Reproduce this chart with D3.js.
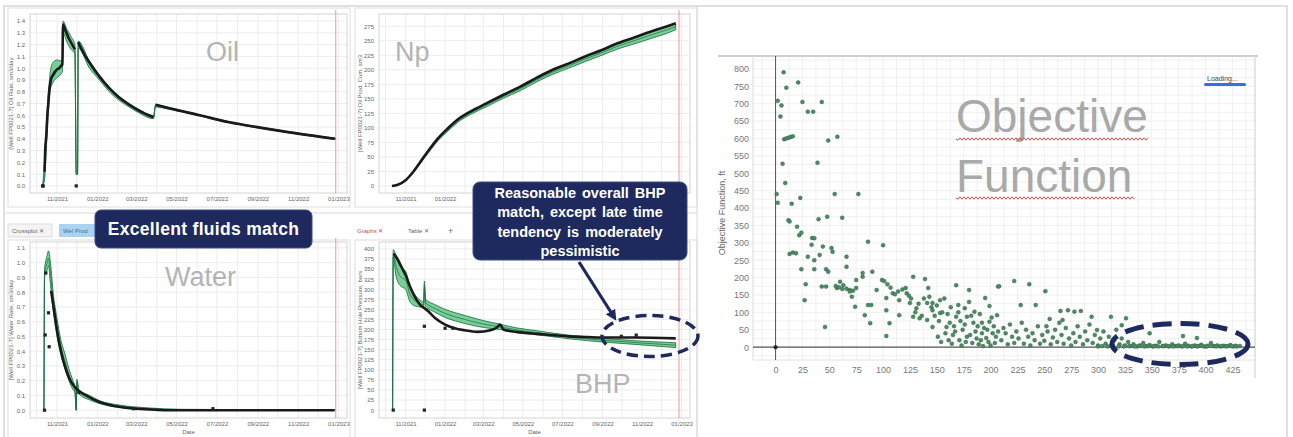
<!DOCTYPE html>
<html lang="en">
<head>
<meta charset="UTF-8">
<title>History match overview</title>
<script src="https://d3js.org/d3.v7.min.js"></script>
<style>
  body { margin:0; background:#fff; overflow:hidden; }
  svg { display:block; font-family:"Liberation Sans", Arial, sans-serif; }
</style>
</head>
<body>
<script>
// ---- data -------------------------------------------------------------
const dateDomain = ["2021-09-21", "2023-01-14"];
const monthTicks = ["2021-11-01","2022-01-01","2022-03-01","2022-05-01","2022-07-01","2022-09-01","2022-11-01","2023-01-01"];
const historyEnd = "2022-12-28";

// oil rate, sm3/day (observed, null = gap)
const oilObsDates = ["2021-10-13","2021-10-14","2021-10-16","2021-10-17","2021-10-19","2021-10-20","2021-10-22","2021-10-23","2021-10-26","2021-10-29","2021-11-01","2021-11-04","2021-11-07","2021-11-09","2021-11-10","2021-11-13","2021-11-16","2021-11-19","2021-11-22","2021-11-25","2021-11-28","2021-11-30","2021-12-03","2021-12-12","2021-12-20","2022-01-04","2022-01-19","2022-02-03","2022-02-18","2022-03-05","2022-03-27","2022-03-29","2022-03-30","2022-04-20","2022-06-05","2022-07-20","2022-09-04","2022-10-19","2022-12-27"];
const oilObs = [0.12,0.3,0.45,0.57,0.72,0.8,0.88,0.91,0.94,0.97,0.99,1.0,1.02,1.03,1.37,1.33,1.29,1.25,1.22,1.19,1.16,null,1.22,1.12,1.05,0.93,0.83,0.75,0.69,0.64,0.585,null,0.69,0.66,0.6,0.54,0.495,0.455,0.4];
const oilDotDates = ["2021-10-10","2021-10-11","2021-11-30"];
const oilDots = [0,0,0];
const oilSimDates = ["2021-10-10","2021-10-13","2021-10-16","2021-10-19","2021-10-22","2021-10-26","2021-11-01","2021-11-07","2021-11-09","2021-11-10","2021-11-16","2021-11-22","2021-11-28","2021-11-30","2021-12-02","2021-12-03","2021-12-20","2022-01-04","2022-01-19","2022-02-18","2022-03-05","2022-03-27","2022-03-30","2022-04-20","2022-06-05","2022-07-20","2022-09-04","2022-10-19","2022-12-27"];
const oilSimLow  = [0,0.05,0.35,0.65,0.82,0.88,0.92,0.95,0.97,1.3,1.22,1.16,1.12,0.1,0.1,1.17,1.0,0.9,0.8,0.67,0.62,0.57,0.67,0.65,0.595,0.535,0.49,0.45,0.395];
const oilSimHigh = [0,0.2,0.55,0.8,0.98,1.05,1.07,1.06,1.08,1.4,1.33,1.27,1.2,0.1,0.1,1.23,1.06,0.94,0.84,0.7,0.65,0.59,0.69,0.665,0.605,0.545,0.5,0.46,0.405];

// cumulative oil, sm3
const npDates = ["2021-10-11","2021-10-19","2021-11-01","2021-11-11","2021-11-26","2021-12-11","2021-12-21","2022-01-05","2022-01-20","2022-02-09","2022-03-07","2022-04-01","2022-04-27","2022-05-22","2022-06-16","2022-07-11","2022-08-05","2022-08-31","2022-09-25","2022-10-21","2022-11-15","2022-12-10","2022-12-23"];
const npObs     = [0,1.7,10,22,45,68,82,99,114,128,143,157,171,186,200,211,223,234,246,256,266,275,280];
const npSimLow  = [0,1,9,20,42,64,78,94,109,123,137,151,164,179,192,203,214,225,236,245,254,263,269];
const npSimHigh = [0,1.7,10,22,45,68,82,99,114,128,143,157,171,186,200,211,223,234,246,256,266,275,279];

// water rate, sm3/day
const waterObsDates = ["2021-10-23","2021-10-28","2021-11-02","2021-11-07","2021-11-12","2021-11-19","2021-11-29","2021-12-15","2022-01-04","2022-01-29","2022-02-23","2022-03-21","2022-04-15","2022-12-26"];
const waterObs = [0.81,0.66,0.51,0.40,0.31,0.22,0.15,0.10,0.055,0.026,0.011,0.005,0.0,0.0];
const waterDotDates = ["2021-10-13","2021-10-14","2021-10-15","2021-10-19","2021-10-20","2021-12-04","2022-02-25","2022-06-25"];
const waterDots = [0,0.51,0.93,0.66,0.43,0.12,0.01,0.01];
const waterSimDates = ["2021-10-11","2021-10-12","2021-10-13","2021-10-17","2021-10-19","2021-10-22","2021-10-26","2021-11-01","2021-11-07","2021-11-13","2021-11-19","2021-11-25","2021-11-28","2021-11-30","2021-12-01","2021-12-04","2021-12-20","2022-01-04","2022-02-03","2022-03-21","2022-05-05","2022-12-27"];
const waterSimLow  = [0,0,0.9,0.95,0.98,0.85,0.68,0.5,0.37,0.28,0.2,0.14,0.12,0,0.18,0.11,0.07,0.045,0.02,0.008,0.003,0];
const waterSimHigh = [0,0,0.95,1.05,1.08,1.0,0.8,0.62,0.47,0.38,0.28,0.2,0.16,0,0.21,0.14,0.1,0.065,0.035,0.015,0.006,0.002];

// bottom hole pressure, bars
const bhpObsDates = ["2021-10-14","2021-10-19","2021-10-27","2021-11-01","2021-11-08","2021-11-16","2021-11-26","2021-11-30","2021-12-06","2021-12-16","2022-01-01","2022-01-16","2022-01-31","2022-02-20","2022-03-12","2022-03-22","2022-03-27","2022-04-01","2022-04-21","2022-05-22","2022-06-16","2022-07-11","2022-08-10","2022-08-31","2022-10-21","2022-12-23"];
const bhpObs = [388,376,351,335,306,279,257,253,245,229,212,203,198,194,198,205,212,200,194,189,186,183,181,180,180,178];
const bhpDotDates = ["2021-10-13","2021-11-30","2021-11-30","2022-01-01","2022-01-13","2022-09-30","2022-10-23"];
const bhpDots = [0,0,208,203,203,183,186];
const bhpSimDates = ["2021-10-12","2021-10-13","2021-10-17","2021-10-22","2021-10-27","2021-11-01","2021-11-08","2021-11-16","2021-11-26","2021-11-29","2021-11-30","2021-12-02","2021-12-16","2022-01-01","2022-01-31","2022-03-01","2022-03-27","2022-04-21","2022-05-22","2022-06-16","2022-07-11","2022-08-10","2022-08-31","2022-10-21","2022-12-23"];
const bhpSimLow  = [0,380,335,312,305,300,268,258,255,253,300,258,243,230,215,205,200,194,187,182,177,172,169,163,155];
const bhpSimHigh = [0,398,385,360,350,345,305,285,270,268,320,275,262,250,235,222,213,204,197,191,186,181,178,172,167];

// objective function per run: [iteration, value ft]
const objRuns = [
  [0,0],[1,440],[2,415],[2,708],[4.5,663],[5.5,695],[6.5,527],[7.5,790],[9,472],[10,746],
  [8,598],[10,600],[12,602],[14,604],[16,606],[12,365],[13,361],[15,412],[20,346],[21,761],
  [22,322],[23,429],[24,329],[24,224],[25,705],[28,181],[27,135],[30,677],[30,260],[33.5,294],
  [34,314],[35,677],[36,313],[36,250],[36,224],[39,530],[40,368],[41,265],[43,705],[43,174],
  [44,289],[46,58],[47,174],[47,224],[48,375],[49,594],[49,217],[52,285],[53,274],[55,440],
  [57.5,605],[57,170],[60,188],[62,372],[62,167],[66,231],[66,260],[69,164],[71,145],[74,116],
  [75,170],[75,193],[77,440],[81,202],[81,213],[83,92],[86,303],[86,121],[88,69],[89,121],
  [90,217],[94,164],[99,193],[100,293],[103,106],[103,32],[103,141],[106,69],[109,155],[115,92],
  [115,135],[122,155],[125,127],[128,202],[128,87],[131,112],[134,83],[139,196],[141,127],[141,78],
  [142,170],[143,145],[146,127],[146,106],[146,58],[153,135],[153,98],[159,58],[165,35],[168,178],
  [168,87],[170,121],[176,112],[178,87],[178,30],[180,164],[180,130],[185,102],[188,60],[192,40],
  [195,141],[196,26],[199,118],[199,73],[202,40],[206,92],[207,174],[208,175],[222,190],[228,121],
  [236,181],[242,121],[251,161],[252,60],[255,81],[265,104],[267,78],[272,106],[278,102],[284,104],
  [294,87],[299,49],[312,87],[322,63],[326,83],[348,40],[379,32],[392,26],
  [13,268],[16,272],[19,270],[56,176],[59,172],[63,178],[66,168],[69,160],[72,162],
  [101,190],[104,181],[107,171],[111,152],[114,160],[118,166],[121,170],[124,148],
  [126,140],[130,100],[133,125],[136,90],[138,140],[145,115],[148,90],[150,120],[152,75],[155,100],
  [157,140],[160,95],[162,70],[163,115],[166,60],[170,100],[172,75],[174,50],[176,65],[182,90],
  [184,70],[186,45],[190,95],[192,70],[194,55],[197,50],[201,85],[203,60],[205,30],
  [151,30],[154,15],[158,40],[161,20],[164,10],[167,45],[171,20],[173,5],[177,15],[181,35],
  [183,12],[187,25],[189,8],[191,20],[193,3],[198,15],[200,5],[204,12],[207,45],
  [210,20],[212,55],[214,40],[216,8],[218,65],[220,30],[222,12],[224,45],[226,25],[229,70],
  [231,10],[233,50],[235,30],[237,5],[239,40],[241,20],[244,60],[246,10],[248,35],[250,18],
  [253,45],[256,8],[258,28],[260,50],[262,15],[264,70],[266,35],[268,10],[270,55],[273,25],
  [275,5],[277,40],[279,15],[281,60],[283,30],[286,8],[288,45],[290,20],[292,65],[295,12],
  [297,35],[300,5],[302,25],[305,45],[307,10],[310,30],[312,4],[315,20],[317,50],[320,8],
  [322,25],[325,5],[328,15],[330,3],
  [333,8],[336,2],[339,5],[342,12],[345,3],[348,6],[351,2],[354,4],[357,15],[360,3],
  [363,5],[366,2],[369,8],[372,3],[375,5],[378,2],[381,10],[384,4],[387,2],[390,5],
  [393,3],[396,7],[399,2],[402,4],[405,12],[408,3],[411,5],[414,2],[417,4],[420,3],
  [423,6],[426,2],[428,4],
  [300,2],[304,3],[309,2],[314,3],[319,2],[324,2],[329,3],[334,2],[338,3],[343,2],
  [347,3],[352,3],[356,2],[361,3],[365,3],[370,2],[374,3],[379,3],[383,2],[388,3],
  [392,2],[397,3],[401,2],[406,3],[410,2],[415,3],[419,2],[424,3],[429,2],[432,3]
];
const objXTicks = d3.range(0, 426, 25);
const objYTicks = d3.range(0, 801, 50);

// ---- page -------------------------------------------------------------
const W = 1293, H = 437;
const parse = d3.timeParse("%Y-%m-%d");
const navy = "#1e2a5e";

const svg = d3.select("body").append("svg")
  .attr("width", W).attr("height", H);

svg.append("rect").attr("width", W).attr("height", H).attr("fill", "#fff");
svg.append("rect").attr("x", 4).attr("y", 6).attr("width", 1283).attr("height", 445)
  .attr("fill", "none").attr("stroke", "#d6d6d6").attr("stroke-width", 1.5);

function zip(dates, vals) {
  return dates.map((d, i) => ({date: parse(d), v: vals[i]}));
}
function zip3(dates, lo, hi) {
  return dates.map((d, i) => ({date: parse(d), lo: lo[i], hi: hi[i]}));
}

// one time-series chart from the simulator screenshot
function timePanel(o) {
  const g = svg.append("g");
  const x = d3.scaleTime().domain(dateDomain.map(parse)).range([o.left, o.right]);
  const y = d3.scaleLinear().domain(o.yDomain).range([o.bottom, o.top]);

  g.append("rect").attr("x", o.frame[0]).attr("y", o.frame[1])
    .attr("width", o.frame[2]).attr("height", o.frame[3])
    .attr("fill", "#fff").attr("stroke", "#dedede");

  // grid
  g.append("g").selectAll("line")
    .data(d3.timeMonth.range(...dateDomain.map(parse)))
    .join("line")
      .attr("x1", d => x(d)).attr("x2", d => x(d))
      .attr("y1", o.top).attr("y2", o.bottom)
      .attr("stroke", "#ececec");
  g.append("g").selectAll("line")
    .data(o.yTicks)
    .join("line")
      .attr("x1", o.left).attr("x2", o.right)
      .attr("y1", d => y(d)).attr("y2", d => y(d))
      .attr("stroke", "#ececec");
  g.append("rect").attr("x", o.left).attr("y", o.top)
    .attr("width", o.right - o.left).attr("height", o.bottom - o.top)
    .attr("fill", "none").attr("stroke", "#d4d4d4");

  // end of history marker
  g.append("line")
    .attr("x1", x(parse(historyEnd))).attr("x2", x(parse(historyEnd)))
    .attr("y1", o.top - 4).attr("y2", o.bottom)
    .attr("stroke", "#e88080").attr("stroke-width", 0.8);

  const shown = monthTicks.map(parse).filter(d => !o.hideX || x(d) < o.hideX[0] || x(d) > o.hideX[1]);
  const xa = g.append("g").attr("transform", `translate(0,${o.bottom})`)
    .call(d3.axisBottom(x).tickValues(shown)
      .tickFormat(d3.timeFormat("%m/%Y")).tickSize(0).tickPadding(4));
  xa.select(".domain").remove();
  xa.selectAll("text").attr("font-size", 6).attr("fill", "#666");

  const ya = g.append("g").attr("transform", `translate(${o.left},0)`)
    .call(d3.axisLeft(y).tickValues(o.yTicks).tickFormat(o.yFmt).tickSize(0).tickPadding(5));
  ya.select(".domain").remove();
  ya.selectAll("text").attr("font-size", 6).attr("fill", "#666");

  g.append("text")
    .attr("transform", `translate(${o.left - 17},${(o.top + o.bottom) / 2}) rotate(-90)`)
    .attr("text-anchor", "middle").attr("font-size", 6).attr("fill", "#666")
    .text(o.yTitle);

  if (o.dateLabel) {
    g.append("text").attr("x", (o.left + o.right) / 2).attr("y", o.bottom + 16)
      .attr("text-anchor", "middle").attr("font-size", 6).attr("fill", "#666").text("Date");
  }

  g.append("text").attr("x", o.name[1]).attr("y", o.name[2])
    .attr("font-size", 27).attr("fill", "#b4b4b4").text(o.name[0]);

  return {g, x, y};
}

function drawSeries(p, sim, obs, dots) {
  const area = d3.area()
    .x(d => p.x(d.date)).y0(d => p.y(d.lo)).y1(d => p.y(d.hi))
    .curve(d3.curveMonotoneX);
  p.g.append("path").datum(sim).attr("d", area)
    .attr("fill", "#62c486").attr("fill-opacity", 0.85)
    .attr("stroke", "#237a47").attr("stroke-width", 0.9);
  p.g.append("path").datum(sim)
    .attr("d", d3.line().x(d => p.x(d.date)).y(d => p.y((d.lo + d.hi) / 2)).curve(d3.curveMonotoneX))
    .attr("fill", "none").attr("stroke", "#1b6b3c").attr("stroke-width", 0.7);

  const line = d3.line()
    .defined(d => d.v != null)
    .x(d => p.x(d.date)).y(d => p.y(d.v))
    .curve(d3.curveMonotoneX);
  p.g.append("path").datum(obs).attr("d", line)
    .attr("fill", "none").attr("stroke", "#1a1a1a").attr("stroke-width", 2.6);

  p.g.append("g").selectAll("rect")
    .data(dots).join("rect")
      .attr("x", d => p.x(d.date) - 1.6).attr("y", d => p.y(d.v) - 1.6)
      .attr("width", 3.2).attr("height", 3.2).attr("fill", "#222");
}

// ---- four history-match panels ----------------------------------------
const oil = timePanel({
  frame: [8, 8, 342, 199], left: 30, right: 347, top: 14, bottom: 193,
  yDomain: [-0.06, 1.46], yTicks: d3.range(0, 1.41, 0.1), yFmt: d3.format(".1f"),
  yTitle: "[Well FP0021-7] Oil Rate, sm3/day", name: ["Oil", 206, 61]
});
drawSeries(oil, zip3(oilSimDates, oilSimLow, oilSimHigh),
  zip(oilObsDates, oilObs), zip(oilDotDates, oilDots));

const np = timePanel({
  frame: [355, 8, 342, 199], left: 379, right: 690, top: 14, bottom: 193,
  yDomain: [-12, 296], yTicks: d3.range(0, 276, 25), yFmt: d3.format("d"),
  yTitle: "[Well FP0021-7] Oil Prod. Cum, sm3", name: ["Np", 395, 61],
  hideX: [460, 700]
});
drawSeries(np, zip3(npDates, npSimLow, npSimHigh), zip(npDates, npObs), []);

const water = timePanel({
  frame: [8, 240, 342, 210], left: 30, right: 347, top: 242, bottom: 418,
  yDomain: [-0.053, 1.14], yTicks: d3.range(0, 1.11, 0.1), yFmt: d3.format(".1f"),
  yTitle: "[Well FP0021-7] Water Rate, sm3/day", name: ["Water", 165, 286], dateLabel: true
});
drawSeries(water, zip3(waterSimDates, waterSimLow, waterSimHigh),
  zip(waterObsDates, waterObs), zip(waterDotDates, waterDots));

const bhp = timePanel({
  frame: [355, 240, 342, 210], left: 379, right: 690, top: 242, bottom: 418,
  yDomain: [-19.6, 417], yTicks: d3.range(0, 401, 25), yFmt: d3.format("d"),
  yTitle: "[Well FP0021-7] Bottom Hole Pressure, bars", name: ["BHP", 575, 393], dateLabel: true
});
drawSeries(bhp, zip3(bhpSimDates, bhpSimLow, bhpSimHigh),
  zip(bhpObsDates, bhpObs), zip(bhpDotDates, bhpDots));

// tab strip between the rows
svg.append("line").attr("x1", 6).attr("x2", 697).attr("y1", 213).attr("y2", 213)
  .attr("stroke", "#d8d8d8");
svg.append("rect").attr("x", 8).attr("y", 224).attr("width", 44).attr("height", 13)
  .attr("fill", "#f4f4f4").attr("stroke", "#ddd");
svg.append("text").attr("x", 12).attr("y", 233).attr("font-size", 6).attr("fill", "#666").text("Crossplot ✕");
svg.append("rect").attr("x", 59).attr("y", 224).attr("width", 36).attr("height", 13)
  .attr("fill", "#a9d2f3");
svg.append("text").attr("x", 63).attr("y", 233).attr("font-size", 6).attr("fill", "#4a6a8a").text("Wel Prod");
svg.append("text").attr("x", 357).attr("y", 233).attr("font-size", 6).attr("fill", "#a55").text("Graphs ✕");
svg.append("text").attr("x", 408).attr("y", 233).attr("font-size", 6).attr("fill", "#666").text("Table ✕");
svg.append("text").attr("x", 448).attr("y", 234).attr("font-size", 9).attr("fill", "#666").text("+");
svg.append("line").attr("x1", 697).attr("x2", 697).attr("y1", 6).attr("y2", 437)
  .attr("stroke", "#d8d8d8");

// ---- objective function scatter ---------------------------------------
const ox = d3.scaleLinear().domain([-21, 446]).range([753, 1255]);
const oy = d3.scaleLinear().domain([-37, 837]).range([360, 56]);
const og = svg.append("g");

og.append("g").selectAll("line")
  .data(d3.range(-12.5, 446, 12.5)).join("line")
    .attr("x1", d => ox(d)).attr("x2", d => ox(d)).attr("y1", 56).attr("y2", 360)
    .attr("stroke", "#f0f0f0");
og.append("g").selectAll("line")
  .data(d3.range(-25, 837, 25)).join("line")
    .attr("x1", 753).attr("x2", 1255).attr("y1", d => oy(d)).attr("y2", d => oy(d))
    .attr("stroke", "#f0f0f0");

og.append("line").attr("x1", 718).attr("x2", 1258).attr("y1", 56).attr("y2", 56)
  .attr("stroke", "#cfcfcf").attr("stroke-width", 2);
og.append("line").attr("x1", 1255).attr("x2", 1255).attr("y1", 56).attr("y2", 378)
  .attr("stroke", "#dcdcdc").attr("stroke-width", 1.5);
og.append("line").attr("x1", 753).attr("x2", 753).attr("y1", 56).attr("y2", 360)
  .attr("stroke", "#dcdcdc");
og.append("line").attr("x1", 753).attr("x2", 1255).attr("y1", 360).attr("y2", 360)
  .attr("stroke", "#e2e2e2");

og.append("line").attr("x1", ox(0)).attr("x2", ox(0)).attr("y1", 56).attr("y2", 360)
  .attr("stroke", "#555").attr("stroke-width", 1);
og.append("line").attr("x1", 753).attr("x2", 1255).attr("y1", oy(0)).attr("y2", oy(0))
  .attr("stroke", "#555").attr("stroke-width", 1.3);

const oxa = og.append("g").attr("transform", "translate(0,360)")
  .call(d3.axisBottom(ox).tickValues(objXTicks).tickSize(0).tickPadding(7));
oxa.select(".domain").remove();
oxa.selectAll("text").attr("font-size", 9).attr("fill", "#777");

const oya = og.append("g").attr("transform", "translate(753,0)")
  .call(d3.axisLeft(oy).tickValues(objYTicks).tickSize(0).tickPadding(4));
oya.select(".domain").remove();
oya.selectAll("text").attr("font-size", 9).attr("fill", "#777");

og.append("text")
  .attr("transform", "translate(725,213) rotate(-90)")
  .attr("text-anchor", "middle").attr("font-size", 9).attr("fill", "#666")
  .text("Objective Function, ft");

og.append("g").selectAll("circle")
  .data(objRuns).join("circle")
    .attr("cx", d => ox(d[0])).attr("cy", d => oy(d[1]))
    .attr("r", 2)
    .attr("fill", (d, i) => i === 0 ? "#222" : "#4a8d63")
    .attr("stroke", "#35563f").attr("stroke-width", 0.4);

// big slide titles with spell-check squiggles
function squiggle(x0, x1, y) {
  const p = d3.path();
  p.moveTo(x0, y);
  for (let xx = x0, k = 0; xx < x1; xx += 2, k++) p.lineTo(xx + 2, y + (k % 2 ? -1.2 : 1.2));
  return p.toString();
}
og.append("text").attr("x", 956).attr("y", 132).attr("font-size", 46)
  .attr("fill", "#a9a9a9").text("Objective");
og.append("text").attr("x", 956).attr("y", 192).attr("font-size", 46)
  .attr("fill", "#a9a9a9").text("Function");
og.append("path").attr("d", squiggle(956, 1148, 139)).attr("fill", "none")
  .attr("stroke", "#e05050").attr("stroke-width", 1);
og.append("path").attr("d", squiggle(956, 1134, 198)).attr("fill", "none")
  .attr("stroke", "#e05050").attr("stroke-width", 1);

og.append("text").attr("x", 1207).attr("y", 81).attr("font-size", 7)
  .attr("fill", "#445").text("Loading...");
og.append("rect").attr("x", 1204).attr("y", 83).attr("width", 42).attr("height", 3)
  .attr("rx", 1.5).attr("fill", "#3b6fd4");

// ---- annotations --------------------------------------------------------
svg.append("defs").append("marker")
  .attr("id", "arrow").attr("viewBox", "0 0 10 10").attr("refX", 6).attr("refY", 5)
  .attr("markerWidth", 3.4).attr("markerHeight", 3.4).attr("orient", "auto")
  .append("path").attr("d", "M0,0L10,5L0,10z").attr("fill", navy);

svg.append("line").attr("x1", 579).attr("y1", 262).attr("x2", 614).attr("y2", 317)
  .attr("stroke", navy).attr("stroke-width", 3.2).attr("marker-end", "url(#arrow)");

svg.append("ellipse").attr("cx", 650).attr("cy", 336).attr("rx", 48).attr("ry", 20.5)
  .attr("fill", "none").attr("stroke", navy).attr("stroke-width", 3.5)
  .attr("stroke-dasharray", "11 6");
svg.append("ellipse").attr("cx", 1180).attr("cy", 344).attr("rx", 68).attr("ry", 20.5)
  .attr("fill", "none").attr("stroke", navy).attr("stroke-width", 5)
  .attr("stroke-dasharray", "19 9");

svg.append("rect").attr("x", 95).attr("y", 210).attr("width", 217).attr("height", 38)
  .attr("rx", 6).attr("fill", navy).attr("stroke", "#3a4c86").attr("stroke-width", 1);
svg.append("text").attr("x", 203.5).attr("y", 235).attr("text-anchor", "middle")
  .attr("font-size", 17.5).attr("font-weight", "bold").attr("fill", "#fff")
  .attr("letter-spacing", 0.3).text("Excellent fluids match");

svg.append("rect").attr("x", 473).attr("y", 182).attr("width", 214).attr("height", 78)
  .attr("rx", 7).attr("fill", navy).attr("stroke", "#3a4c86").attr("stroke-width", 1);
const calloutLines = ["Reasonable overall BHP", "match, except late time", "tendency is moderately", "pessimistic"];
svg.append("text").attr("text-anchor", "middle").attr("font-size", 14.5)
  .attr("font-weight", "bold").attr("fill", "#fff").attr("word-spacing", 2)
  .selectAll("tspan").data(calloutLines).join("tspan")
    .attr("x", 580).attr("y", (d, i) => 198 + i * 19.3).text(d => d);
</script>
</body>
</html>
